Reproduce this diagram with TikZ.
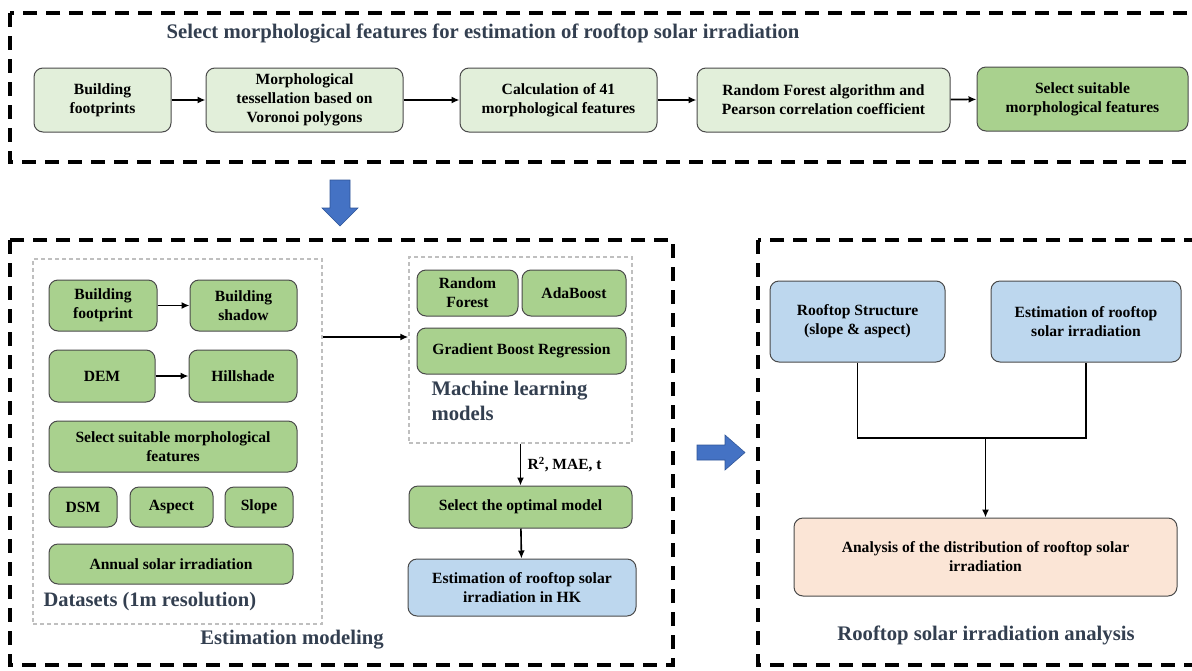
\documentclass[tikz,border=0pt]{standalone}
\usepackage{fontspec}
\setmainfont{Liberation Serif}
\usetikzlibrary{arrows.meta,calc}
\definecolor{lgreen}{HTML}{E2EFDA}
\definecolor{mgreen}{HTML}{A9D18E}
\definecolor{lblue}{HTML}{BDD7EE}
\definecolor{peach}{HTML}{FBE5D6}
\definecolor{bord}{HTML}{4A4A4A}
\definecolor{slate}{HTML}{333F50}
\definecolor{barrow}{HTML}{4472C4}
\definecolor{barrowd}{HTML}{2F5597}
\tikzset{
  box/.style={draw=bord, line width=1pt, rounded corners=9pt, align=center, inner sep=2pt,
    font=\bfseries\fontsize{15.6}{19}\selectfont},
  topbox/.style={box, fill=lgreen},
  gbox/.style={box, fill=mgreen},
  bbox/.style={box, fill=lblue},
  pbox/.style={box, fill=peach},
  outer/.style={draw=black, line width=3.2pt, dash pattern=on 14pt off 9pt},
  inner/.style={draw=black!25, line width=1.4pt, dash pattern=on 4pt off 3pt},
  arr/.style={draw=black, line width=1.6pt, -{Latex[length=8pt,width=7pt]}},
  ln/.style={draw=black, line width=1.6pt},
  ttl/.style={text=slate, font=\bfseries\fontsize{20.7}{24}\selectfont},
  bigarrow/.style={fill=barrow, draw=barrowd, line width=0.6pt}
}
\begin{document}
\begin{tikzpicture}[x=1pt,y=-1pt]
\useasboundingbox (0,0) rectangle (1192,670);
\clip (0,0) rectangle (1192,670);
% ---------- top section ----------
\draw[outer] (10,13) rectangle (1220,162);
\node[ttl] (t1) at (483,33) {Select morphological features for estimation of rooftop solar irradiation};
\node[topbox, minimum width=137pt, minimum height=64pt] (a1) at (102.5,100) {Building\\footprints};
\node[topbox, minimum width=197pt, minimum height=64pt] (a2) at (304.5,100) {Morphological\\tessellation based on\\Voronoi polygons};
\node[topbox, minimum width=197pt, minimum height=64pt] (a3) at (558.5,100) {Calculation of 41\\morphological features};
\node[topbox, minimum width=253pt, minimum height=64pt] (a4) at (823.5,100) {Random Forest algorithm and\\Pearson correlation coefficient};
\node[topbox, fill=mgreen, minimum width=211pt, minimum height=64pt] (a5) at (1082.5,99) {Select suitable\\morphological features};
\draw[arr] (a1) -- (a2);
\draw[arr] (a2) -- (a3);
\draw[arr] (a3) -- (a4);
\draw[arr] (a4) -- (a5);
% blue down arrow
\draw[bigarrow] (330,180) -- (350,180) -- (350,208) -- (358,208) -- (340,226) -- (322,208) -- (330,208) -- cycle;
% ---------- estimation modeling ----------
\draw[outer] (10,240) rectangle (673,665);
\node[inner, minimum width=289pt, minimum height=365pt] (ds) at (177.5,441.5) {};
\node[gbox, minimum width=108pt, minimum height=51pt] (bf) at (103,305.5) {Building\\footprint};
\node[gbox, minimum width=107pt, minimum height=51pt] (bs) at (243.5,305.5) {Building\\shadow};
\node[gbox, minimum width=106pt, minimum height=52pt] (dem) at (102,376) {DEM};
\node[gbox, minimum width=108pt, minimum height=52pt] (hs) at (243,376) {Hillshade};
\node[gbox, minimum width=248pt, minimum height=51pt] (sm) at (173,446.5) {Select suitable morphological\\features};
\node[gbox, minimum width=68pt, minimum height=40pt] (dsm) at (83,507) {DSM};
\node[gbox, minimum width=83pt, minimum height=40pt] (asp) at (171.5,507) {Aspect};
\node[gbox, minimum width=68pt, minimum height=40pt] (slp) at (259,507) {Slope};
\node[gbox, minimum width=244pt, minimum height=40pt] (asi) at (171,564) {Annual solar irradiation};
\node[text=slate, font=\fontsize{20.5}{24}\selectfont\bfseries, anchor=west] (dlab) at (40,602) {Datasets (1m resolution)};
\draw[arr] (bf) -- (bs);
\draw[arr] (dem) -- (hs);
% machine learning
\node[inner, minimum width=223pt, minimum height=186pt] (ml) at (520.5,350) {};
\node[gbox, minimum width=101pt, minimum height=46pt] (rf) at (467.5,293) {Random\\Forest};
\node[gbox, minimum width=104pt, minimum height=46pt] (ab) at (574,293) {AdaBoost};
\node[gbox, minimum width=209pt, minimum height=46pt] (gb) at (521.5,351) {Gradient Boost Regression};
\node[ttl, align=left, anchor=north west, font=\bfseries\fontsize{20.7}{25}\selectfont] (mlab) at (428,378) {Machine learning\\models};
\coordinate (m) at ([yshift=13pt]ml.west);
\draw[arr] (ds.east |- m) -- (m);
\node[gbox, minimum width=223pt, minimum height=42pt] (opt) at (520.5,507) {Select the optimal model};
\node[bbox, minimum width=228pt, minimum height=57pt] (est) at (522,587.5) {Estimation of rooftop solar\\irradiation in HK};
\draw[arr] (ml.south -| opt.north) -- node[right, xshift=3pt, font=\bfseries\fontsize{15.5}{18}\selectfont] (rlab) {R\textsuperscript{2}, MAE, t} (opt.north);
\draw[arr] (opt) -- (est);
\node[text=slate, font=\bfseries\fontsize{20.7}{24}\selectfont] (emlab) at (292,640) {Estimation modeling};
% blue right arrow
\draw[bigarrow] (697,445) -- (725,445) -- (725,435) -- (745,452.5) -- (725,470) -- (725,460) -- (697,460) -- cycle;
% ---------- analysis ----------
\draw[outer] (758,240) rectangle (1220,665);
\node[bbox, minimum width=175pt, minimum height=81pt] (rs) at (857.5,321.5) {Rooftop Structure\\(slope \& aspect)};
\node[bbox, minimum width=190pt, minimum height=81pt] (er) at (1086,321.5) {Estimation of rooftop\\solar irradiation};
\node[pbox, minimum width=383pt, minimum height=78pt] (an) at (985.5,557) {Analysis of the distribution of rooftop solar\\irradiation};
\coordinate (jn) at (985.5,438);
\draw[ln] (rs.south) -- (rs.south |- jn) -- (er.south |- jn) -- (er.south);
\draw[arr] (jn) -- (an.north);
\node[ttl] (alab) at (986,635) {Rooftop solar irradiation analysis};
\end{tikzpicture}
\end{document}
